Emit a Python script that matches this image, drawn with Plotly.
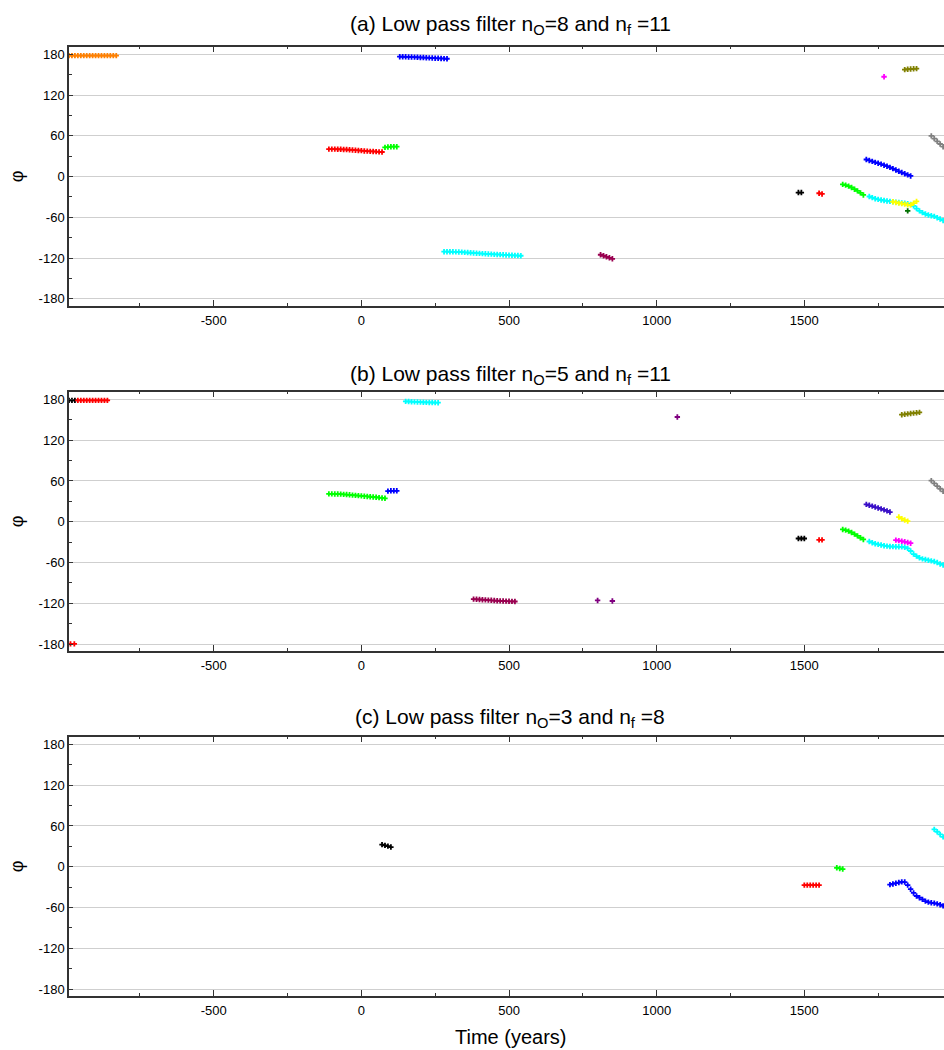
import plotly.graph_objects as go

# ---------------- data ----------------
# Panel (a): n_O=8, n_f=11
a_orange_x = [-990, -980, -970, -960, -950, -940, -930, -920, -910, -900, -890, -880, -870, -860, -850, -840, -830]
a_orange_y = [178, 178, 178, 178, 178, 178, 178, 178, 178, 178, 178, 178, 178, 178, 178, 178, 178]
a_red_x = [-110, -100, -90, -80, -70, -60, -50, -40, -30, -20, -10, 0, 10, 20, 30, 40, 50, 60, 70]
a_red_y = [40.5, 40.5, 40.4, 40.3, 40.2, 40.0, 39.8, 39.5, 39.2, 38.9, 38.5, 38.2, 37.8, 37.5, 37.2, 37.0, 36.7, 36.4, 36.2]
a_green_x = [80, 90, 100, 110, 120]
a_green_y = [43, 43.5, 44, 44, 44]
a_blue_x = [130, 140, 150, 160, 170, 180, 190, 200, 210, 220, 230, 240, 250, 260, 270, 280, 290]
a_blue_y = [176.5, 176.4, 176.3, 176.1, 176.0, 175.8, 175.6, 175.4, 175.2, 175.0, 174.8, 174.6, 174.3, 174.1, 173.9, 173.7, 173.5]
a_cyan_x = [280, 290, 300, 310, 320, 330, 340, 350, 360, 370, 380, 390, 400, 410, 420, 430, 440, 450, 460, 470, 480, 490, 500, 510, 520, 530, 540]
a_cyan_y = [-110.5, -110.5, -110.6, -110.7, -110.8, -111.0, -111.2, -111.5, -111.8, -112.1, -112.4, -112.7, -113.0, -113.3,
            -113.6, -113.9, -114.1, -114.4, -114.6, -114.9, -115.1, -115.3, -115.6, -115.8, -116.0, -116.2, -116.5]
a_maroon_x = [810, 820, 830, 840, 850]
a_maroon_y = [-115, -116.5, -118, -119.5, -121]
a_black_x = [1480, 1490]
a_black_y = [-23.5, -23.5]
a_red2_x = [1550, 1560]
a_red2_y = [-24.5, -25.5]
a_green2_x = [1630, 1640, 1650, 1660, 1670, 1680, 1690, 1700]
a_green2_y = [-11.5, -12.5, -14, -16, -18.5, -21, -24, -27]
a_cyan2_x = [1720, 1730, 1740, 1750, 1760, 1770, 1780, 1790, 1800, 1810, 1820, 1830, 1840, 1850, 1860,
             1870, 1880, 1890, 1900, 1910, 1920, 1930, 1940, 1950, 1960, 1970]
a_cyan2_y = [-29.3, -31, -32.5, -33.5, -34.4, -35.2, -35.8, -36.5, -37, -37.6, -38.2, -38.7, -39.3, -40, -40.8,
             -43, -47, -50.5, -53, -55, -56.5, -57.5, -58.5, -60.5, -62.5, -64.5]
a_blue2_x = [1710, 1720, 1730, 1740, 1750, 1760, 1770, 1780, 1790, 1800, 1810, 1820, 1830, 1840, 1850, 1860]
a_blue2_y = [25.2, 23.8, 22.4, 21, 19.7, 18.3, 16.8, 15.3, 13.6, 11.8, 9.8, 7.8, 6, 4.3, 2.6, 1]
a_yellow_x = [1800, 1810, 1820, 1830, 1840, 1850, 1860, 1870, 1880]
a_yellow_y = [-37, -38, -39, -39.7, -40.5, -41.5, -41.8, -39, -36.5]
a_dkgreen_x = [1850]
a_dkgreen_y = [-50.5]
a_magenta_x = [1770]
a_magenta_y = [147]
a_olive_x = [1840, 1850, 1860, 1870, 1880]
a_olive_y = [157.5, 158, 158.3, 158.7, 159]
a_gray_x = [1930, 1940, 1950, 1960, 1970]
a_gray_y = [60, 56, 52, 48, 44]

# Panel (b): n_O=5, n_f=11
b_black_x = [-990, -980, -970]
b_black_y = [178.5, 178.5, 178.5]
b_red_x = [-960, -950, -940, -930, -920, -910, -900, -890, -880, -870, -860]
b_red_y = [178.5, 178.5, 178.5, 178.5, 178.5, 178.5, 178.5, 178.5, 178.5, 178.5, 178.5]
b_redlow_x = [-985, -972]
b_redlow_y = [-179.5, -179.5]
b_green_x = [-110, -100, -90, -80, -70, -60, -50, -40, -30, -20, -10, 0, 10, 20, 30, 40, 50, 60, 70, 80]
b_green_y = [41, 41, 40.9, 40.8, 40.6, 40.3, 40, 39.6, 39.2, 38.8, 38.4, 38, 37.6, 37.2, 36.8, 36.4, 36, 35.5, 35, 34.5]
b_blue_x = [90, 100, 110, 120]
b_blue_y = [45, 45.5, 45.5, 45.5]
b_cyan_x = [150, 160, 170, 180, 190, 200, 210, 220, 230, 240, 250, 260]
b_cyan_y = [177, 176.8, 176.5, 176.3, 176.1, 175.9, 175.7, 175.5, 175.4, 175.3, 175.2, 175]
b_maroon_x = [380, 390, 400, 410, 420, 430, 440, 450, 460, 470, 480, 490, 500, 510, 520]
b_maroon_y = [-113.7, -114, -114.3, -114.6, -114.9, -115.2, -115.5, -115.8, -116.1, -116.3, -116.5, -116.7, -116.9, -117.1, -117.2]
b_purple_x = [800, 850, 1070]
b_purple_y = [-115.7, -116.5, 154]
b_black2_x = [1480, 1490, 1500]
b_black2_y = [-24.6, -24.6, -24.6]
b_red2_x = [1550, 1560]
b_red2_y = [-26.6, -26.6]
b_green2_x = [1630, 1640, 1650, 1660, 1670, 1680, 1690, 1700]
b_green2_y = [-11.3, -12.3, -13.8, -15.8, -18.2, -20.8, -23.5, -26]
b_cyan2_x = [1720, 1730, 1740, 1750, 1760, 1770, 1780, 1790, 1800, 1810, 1820, 1830, 1840, 1850, 1860,
             1870, 1880, 1890, 1900, 1910, 1920, 1930, 1940, 1950, 1960, 1970]
b_cyan2_y = [-29, -30.8, -32.3, -33.2, -34.2, -35.2, -35.8, -36.4, -36.6, -36.7, -36.8, -36.8, -37.5, -39.2, -43,
             -47.5, -50.5, -53, -54.5, -55.5, -56.5, -57.5, -58.5, -60, -62, -63.5]
b_indigo_x = [1710, 1720, 1730, 1740, 1750, 1760, 1770, 1780, 1790]
b_indigo_y = [25.5, 24.2, 23, 21.6, 20.3, 19, 17.5, 16, 14.3]
b_yellow_x = [1820, 1830, 1840, 1850]
b_yellow_y = [6.9, 4.5, 2.5, 1]
b_magenta_x = [1810, 1820, 1830, 1840, 1850, 1860]
b_magenta_y = [-27, -27.8, -28.6, -29.5, -30.5, -31.5]
b_olive_x = [1830, 1840, 1850, 1860, 1870, 1880, 1890]
b_olive_y = [157.4, 158, 158.6, 159.2, 159.7, 160.2, 160.8]
b_gray_x = [1930, 1940, 1950, 1960, 1970]
b_gray_y = [60.5, 56.5, 52.5, 48.5, 44.8]

# Panel (c): n_O=3, n_f=8
c_black_x = [70, 80, 90, 100]
c_black_y = [32.5, 31.5, 30.3, 29]
c_red_x = [1500, 1510, 1520, 1530, 1540, 1550]
c_red_y = [-27, -27, -27, -27, -27, -27]
c_green_x = [1610, 1620, 1630]
c_green_y = [-1.5, -2.5, -3.4]
c_blue_x = [1790, 1800, 1810, 1820, 1830, 1840, 1850, 1860, 1870, 1880, 1890, 1900, 1910, 1920, 1930, 1940, 1950, 1960, 1970]
c_blue_y = [-26.3, -25.3, -24.2, -23.2, -22.2, -22.5, -27, -33, -38.5, -43, -45.5, -48, -50.5, -52, -53, -53.5, -54.5, -55.8, -57.5]
c_cyan_x = [1940, 1950, 1960, 1970]
c_cyan_y = [55, 51.5, 47.5, 44]

titles = ["(a) Low pass filter n<sub>O</sub>=8 and n<sub>f</sub> =11",
          "(b) Low pass filter n<sub>O</sub>=5 and n<sub>f</sub> =11",
          "(c) Low pass filter n<sub>O</sub>=3 and n<sub>f</sub> =8"]
y_ticks = [-180, -120, -60, 0, 60, 120, 180]
x_ticks = [-500, 0, 500, 1000, 1500]

# colors
ORANGE, RED, GREEN, BLUE, CYAN = "#FF8000", "#FF0000", "#00FF00", "#0000FF", "#00FFFF"
MAROON, BLACK, YELLOW, DKGREEN = "#990050", "#000000", "#FFFF00", "#007000"
MAGENTA, OLIVE, GRAY, PURPLE, INDIGO = "#FF00FF", "#808000", "#808080", "#800080", "#3A10C8"

panels = [
    [(a_orange_x, a_orange_y, ORANGE), (a_red_x, a_red_y, RED), (a_green_x, a_green_y, GREEN),
     (a_blue_x, a_blue_y, BLUE), (a_cyan_x, a_cyan_y, CYAN), (a_maroon_x, a_maroon_y, MAROON),
     (a_black_x, a_black_y, BLACK), (a_red2_x, a_red2_y, RED), (a_green2_x, a_green2_y, GREEN),
     (a_cyan2_x, a_cyan2_y, CYAN), (a_blue2_x, a_blue2_y, BLUE), (a_yellow_x, a_yellow_y, YELLOW),
     (a_dkgreen_x, a_dkgreen_y, DKGREEN), (a_magenta_x, a_magenta_y, MAGENTA),
     (a_olive_x, a_olive_y, OLIVE), (a_gray_x, a_gray_y, GRAY)],
    [(b_black_x, b_black_y, BLACK), (b_red_x, b_red_y, RED), (b_redlow_x, b_redlow_y, RED),
     (b_green_x, b_green_y, GREEN), (b_blue_x, b_blue_y, BLUE), (b_cyan_x, b_cyan_y, CYAN),
     (b_maroon_x, b_maroon_y, MAROON), (b_purple_x, b_purple_y, PURPLE), (b_black2_x, b_black2_y, BLACK),
     (b_red2_x, b_red2_y, RED), (b_green2_x, b_green2_y, GREEN), (b_cyan2_x, b_cyan2_y, CYAN),
     (b_indigo_x, b_indigo_y, INDIGO), (b_yellow_x, b_yellow_y, YELLOW), (b_magenta_x, b_magenta_y, MAGENTA),
     (b_olive_x, b_olive_y, OLIVE), (b_gray_x, b_gray_y, GRAY)],
    [(c_black_x, c_black_y, BLACK), (c_red_x, c_red_y, RED), (c_green_x, c_green_y, GREEN),
     (c_blue_x, c_blue_y, BLUE), (c_cyan_x, c_cyan_y, CYAN)],
]

# ---------------- layout geometry (pixels) ----------------
W, H = 944, 1050
L = 69
panel_px = [(46.7, 305.7), (391.7, 651.0), (736.7, 996.0)]
title_px = [25, 375, 718]

def py(p):
    return 1 - p / H

def px(p):
    return (p - L) / (W - L)

fig = go.Figure()
font_family = "Arial, Liberation Sans, sans-serif"

layout = dict(
    width=W, height=H,
    margin=dict(l=L, r=0, t=0, b=0),
    paper_bgcolor="white", plot_bgcolor="white",
    showlegend=False,
    font=dict(family=font_family, color="#000000", size=13),
    annotations=[],
)

for i, series in enumerate(panels):
    n = i + 1
    xa = "x" if n == 1 else f"x{n}"
    ya = "y" if n == 1 else f"y{n}"
    for xs, ys, col in series:
        fig.add_trace(go.Scatter(x=xs, y=ys, mode="markers", xaxis=xa, yaxis=ya,
                                 marker=dict(symbol="cross", size=4.5, color=col, line=dict(width=0)),
                                 hoverinfo="x+y"))
    top, bot = panel_px[i]
    xkey = "xaxis" if n == 1 else f"xaxis{n}"
    ykey = "yaxis" if n == 1 else f"yaxis{n}"
    layout[xkey] = dict(
        domain=[0, 1], anchor=ya, range=[-990, 1973],
        tickmode="array", tickvals=x_ticks, ticktext=[str(v) for v in x_ticks],
        ticks="inside", ticklen=6, tickwidth=1, tickcolor="#333333",
        minor=dict(tickmode="array", tickvals=[-750, -250, 250, 750, 1250, 1750],
                   ticks="inside", ticklen=3, tickcolor="#333333"),
        showline=True, linecolor="#333333", linewidth=1.5, mirror="ticks",
        showgrid=False, zeroline=False,
        tickfont=dict(size=13, family=font_family, color="#000000"),
        ticklabelstandoff=2,
    )
    layout[ykey] = dict(
        domain=[py(bot), py(top)], anchor=xa, range=[-190, 191.2],
        tickmode="array", tickvals=y_ticks, ticktext=[str(v) for v in y_ticks],
        ticks="inside", ticklen=4, tickwidth=1, tickcolor="#333333",
        minor=dict(tickmode="array", tickvals=[-150, -90, -30, 30, 90, 150],
                   ticks="inside", ticklen=3, tickcolor="#333333", showgrid=False),
        showline=True, linecolor="#333333", linewidth=1.5, mirror=False,
        showgrid=True, gridcolor="#CFCFCF", gridwidth=1, zeroline=False,
        tickfont=dict(size=13, family=font_family, color="#000000"),
    )
    layout["annotations"].append(dict(
        text=titles[i], xref="paper", yref="paper", x=px(510), y=py(title_px[i]),
        xanchor="center", yanchor="middle", showarrow=False,
        font=dict(size=21, family=font_family, color="#000000")))
    layout["annotations"].append(dict(
        text="φ", xref="paper", yref="paper", x=px(17), y=py((top + bot) / 2),
        xanchor="center", yanchor="middle", showarrow=False, textangle=-90,
        font=dict(size=18, family=font_family, color="#000000")))

layout["annotations"].append(dict(
    text="Time (years)", xref="paper", yref="paper", x=px(510), y=py(1037),
    xanchor="center", yanchor="middle", showarrow=False,
    font=dict(size=20, family=font_family, color="#000000")))

fig.update_layout(**layout)
fig.write_html("out.html")
